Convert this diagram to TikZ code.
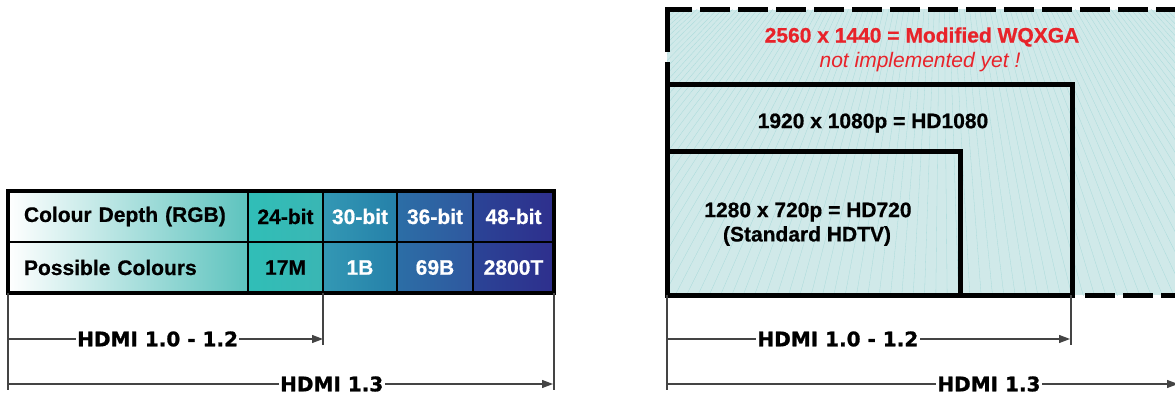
\documentclass[tikz,border=0pt]{standalone}
\usepackage{fontspec}
\setmainfont{Liberation Sans}[BoldFeatures={FakeBold=0.6}]
\newfontfamily\dimfont{DejaVu Sans}[BoldFeatures={FakeBold=1.2}]
\usetikzlibrary{positioning,arrows.meta}

\definecolor{tealA}{HTML}{30BEB7}
\definecolor{tealB}{HTML}{3AB6B4}
\definecolor{blueA}{HTML}{3398B4}
\definecolor{blueB}{HTML}{2580A9}
\definecolor{blueC}{HTML}{2C6EA6}
\definecolor{blueD}{HTML}{2F589F}
\definecolor{blueE}{HTML}{2B4496}
\definecolor{blueF}{HTML}{2E2F8D}
\definecolor{paleA}{HTML}{5DC3BE}
\definecolor{skyfill}{HTML}{D0E9E9}
\definecolor{skyray}{HTML}{A8DADA}
\definecolor{warnred}{HTML}{E8232A}
\definecolor{dimgray}{HTML}{444444}

\tikzset{
  cell/.style={draw, line width=2.5pt, outer sep=0pt, inner sep=0pt,
    minimum height=51pt, text=white},
  firstcell/.style={cell, minimum width=240pt, text width=208pt, align=left,
    text=black, left color=white, right color=paleA},
  dimline/.style={draw=dimgray, line width=1.2pt},
  dimarrow/.style={dimline, -{Triangle[length=11pt, width=8pt]}},
  dimlabel/.style={fill=white, inner sep=1.5pt, text=black,
    font=\dimfont\bfseries\fontsize{20}{24}\selectfont},
  framebox/.style={draw, line width=5pt},
  warn/.style={text=warnred}
}

\begin{document}
\begin{tikzpicture}[x=1pt, y=-1pt,
    every node/.style={font=\fontsize{21}{25}\selectfont\bfseries}]
  \useasboundingbox (0,0) rectangle (1175,398);

  % colour depth table
  \node[firstcell, anchor=north west] (depth) at (8,191) {Colour Depth (RGB)};
  \node[firstcell, below=0pt of depth] (colours) {Possible Colours};

  \node[cell, minimum width=75pt, right=0pt of depth, left color=tealA, right color=tealB, text=black] (bit24) {24-bit};
  \node[cell, minimum width=74pt, right=0pt of bit24, left color=blueA, right color=blueB] (bit30) {30-bit};
  \node[cell, minimum width=76pt, right=0pt of bit30, left color=blueC, right color=blueD] (bit36) {36-bit};
  \node[cell, minimum width=81pt, right=0pt of bit36, left color=blueE, right color=blueF] (bit48) {48-bit};

  \node[cell, minimum width=75pt, right=0pt of colours, left color=tealA, right color=tealB, text=black] (num24) {17M};
  \node[cell, minimum width=74pt, right=0pt of num24, left color=blueA, right color=blueB] (num30) {1B};
  \node[cell, minimum width=76pt, right=0pt of num30, left color=blueC, right color=blueD] (num36) {69B};
  \node[cell, minimum width=81pt, right=0pt of num36, left color=blueE, right color=blueF] (num48) {2800T};

  \draw[line width=4pt] (depth.north west) rectangle (num48.south east);

  % left dimensions
  \draw[dimline] (colours.south west) -- ++(0,97);
  \draw[dimline] (num30.south west) -- ++(0,52);
  \draw[dimline] (num48.south east) -- ++(0,97);
  \draw[dimarrow] (colours.south west |- 0,339) -- (num30.south west |- 0,339)
    node[dimlabel, pos=.475] {HDMI 1.0 - 1.2};
  \draw[dimarrow] (colours.south west |- 0,384) -- ([xshift=-1pt]num48.south east |- 0,384)
    node[dimlabel, pos=.594] {HDMI 1.3};

  % resolution frames
  \coordinate (wq-nw) at (667,10);
  \coordinate (wq-se) at (1190,295);
  \coordinate (hd1080-nw) at (667,85);
  \coordinate (hd1080-se) at (1072,295);
  \coordinate (hd720-nw) at (667,152);
  \coordinate (hd720-se) at (960,295);
  \coordinate (rayorigin) at (942,-220);

  \fill[skyfill] (wq-nw) rectangle (wq-se);
  \shade[left color=skyfill, middle color=white, right color=skyfill] (840,10) rectangle (1050,295);
  \begin{scope}
    \clip (wq-nw) rectangle (wq-se);
    \foreach \t in {-1200,-1178,...,1110}
      \draw[skyray, line width=.3pt] (rayorigin) -- ++(\t,1000);
  \end{scope}

  \draw[framebox, dash pattern=on 23pt off 10pt on 67pt off 8pt on 30pt off 8pt
      on 30pt off 8pt on 30pt off 8pt on 30pt off 8pt on 30pt off 8pt on 30pt off 8pt
      on 30pt off 8pt on 30pt off 8pt on 30pt off 8pt on 30pt off 8pt on 30pt off 8pt
      on 30pt off 8pt on 30pt off 8pt on 30pt off 8pt]
    (hd1080-nw) -- (wq-nw) -- (wq-nw -| wq-se);
  \draw[framebox, dash pattern=on 30pt off 8pt, dash phase=30pt] (1077,295) -- (wq-se);
  \draw[framebox] (hd1080-nw) rectangle (hd1080-se);
  \draw[framebox] (hd720-nw) rectangle (hd720-se);

  \node[warn] (wqxga) at (922,37) {2560 x 1440 = Modified WQXGA};
  \node[warn, font=\fontsize{21}{25}\selectfont\itshape] (notyet) at (920,62) {not implemented yet !};
  \node (hd1080) at (873,123) {1920 x 1080p = HD1080};
  \node (hd720) at (808,212) {1280 x 720p = HD720};
  \node (hdtv) at (807,236) {(Standard HDTV)};

  % right dimensions
  \coordinate (rt-base) at (667,295);
  \coordinate (rt-mid) at (1071,295);
  \coordinate (rt-far) at (1178,384);
  \draw[dimline] (rt-base) -- ++(0,95);
  \draw[dimline] (rt-mid) -- ++(0,50);
  \draw[dimarrow] (rt-base |- 0,339) -- ([xshift=-1pt]rt-mid |- 0,339)
    node[dimlabel, pos=.424] {HDMI 1.0 - 1.2};
  \draw[dimarrow] (rt-base |- 0,384) -- (rt-far)
    node[dimlabel, pos=.63] {HDMI 1.3};
\end{tikzpicture}
\end{document}
